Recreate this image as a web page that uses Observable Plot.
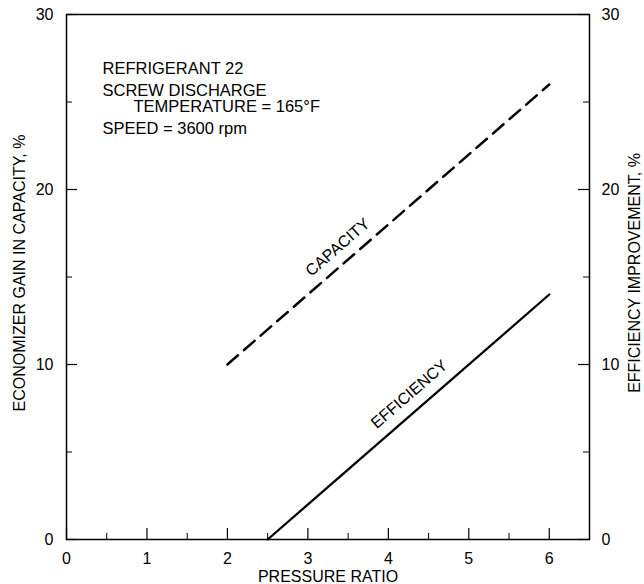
<!DOCTYPE html>
<html>
<head>
<meta charset="utf-8">
<script src="https://cdn.jsdelivr.net/npm/d3@7"></script>
<script src="https://cdn.jsdelivr.net/npm/@observablehq/plot@0.6"></script>
<style>
  html, body { margin: 0; padding: 0; background: #fff; }
</style>
</head>
<body>
<div id="chart"></div>
<script>
// ---- data ----
const capacityRatio = [2, 6];
const capacityGain = [10, 26];
const efficiencyRatio = [2.5, 6];
const efficiencyGain = [0, 14];
const xTicks = [0, 1, 2, 3, 4, 5, 6];
const xMinorTicks = [0.5, 1.5, 2.5, 3.5, 4.5, 5.5];
const yTicks = [0, 10, 20, 30];
const yMinorTicks = [5, 15, 25];
const noteLines = ["REFRIGERANT 22", "SCREW DISCHARGE", "TEMPERATURE = 165°F", "SPEED = 3600 rpm"];
const curveNames = ["CAPACITY", "EFFICIENCY"];
const xTitle = "PRESSURE RATIO";
const yLeftTitle = "ECONOMIZER GAIN IN CAPACITY, %";
const yRightTitle = "EFFICIENCY IMPROVEMENT, %";

// ---- layout ----
const W = 644, H = 584;
const mL = 66, mR = 55, mT = 14, mB = 45;
const fw = W - mL - mR, fh = H - mT - mB;
const majorLen = 11, minorLen = 6;
const font = "'Liberation Sans', Arial, Helvetica, sans-serif";

const capacity = capacityRatio.map((x, i) => ({x, y: capacityGain[i]}));
const efficiency = efficiencyRatio.map((x, i) => ({x, y: efficiencyGain[i]}));

// slope angle in screen space
const slope = (capacityGain[1] - capacityGain[0]) / (capacityRatio[1] - capacityRatio[0]);
const angle = -Math.atan(slope * (fh / 30) / (fw / 6.5)) * 180 / Math.PI;

const curveLabelPos = [{x: 3.37, y: 16.7}, {x: 4.26, y: 8.3}];
const notePos = [{dx: 36, dy: 54}, {dx: 36, dy: 76}, {dx: 67, dy: 92}, {dx: 36, dy: 114}];

const marks = [
  Plot.frame({stroke: "black", strokeWidth: 1.5}),
  // tick labels
  Plot.axisX(xTicks, {tickSize: 0, tickPadding: 13, fontSize: 16, label: null, fill: "black"}),
  Plot.axisY(yTicks, {anchor: "left", tickSize: 0, tickPadding: 13, fontSize: 16, label: null, fill: "black"}),
  Plot.axisY(yTicks, {anchor: "right", tickSize: 0, tickPadding: 12, fontSize: 16, label: null, fill: "black"}),
  // inward ticks
  Plot.tickX(xTicks, {x: d => d, insetTop: fh - majorLen, stroke: "black", strokeWidth: 1.2}),
  Plot.tickX(xMinorTicks, {x: d => d, insetTop: fh - minorLen, stroke: "black", strokeWidth: 1}),
  Plot.tickY(yTicks, {y: d => d, insetRight: fw - majorLen, stroke: "black", strokeWidth: 1.2}),
  Plot.tickY(yMinorTicks, {y: d => d, insetRight: fw - minorLen, stroke: "black", strokeWidth: 1}),
  Plot.tickY(yTicks, {y: d => d, insetLeft: fw - majorLen, stroke: "black", strokeWidth: 1.2}),
  Plot.tickY(yMinorTicks, {y: d => d, insetLeft: fw - minorLen, stroke: "black", strokeWidth: 1}),
  // curves
  Plot.line(capacity, {x: "x", y: "y", stroke: "black", strokeWidth: 2.5, strokeDasharray: "14,8"}),
  Plot.line(efficiency, {x: "x", y: "y", stroke: "black", strokeWidth: 2.3}),
  Plot.text(curveNames.map((t, i) => ({t, ...curveLabelPos[i]})), {
    x: "x", y: "y", text: "t", rotate: angle, fontSize: 16, fill: "black",
    textAnchor: "middle", lineAnchor: "middle"
  }),
  // notes
  ...noteLines.map((t, i) => Plot.text([t], {
    frameAnchor: "top-left", dx: notePos[i].dx, dy: notePos[i].dy,
    textAnchor: "start", lineAnchor: "middle", fontSize: 16.5, fill: "black"
  })),
  // axis titles
  Plot.text([xTitle], {frameAnchor: "bottom", dy: 37.5, textAnchor: "middle", lineAnchor: "middle", fontSize: 16, fill: "black"}),
  Plot.text([yLeftTitle], {frameAnchor: "left", dx: -47, dy: -4, rotate: -90, textAnchor: "middle", lineAnchor: "middle", fontSize: 16, fill: "black"}),
  Plot.text([yRightTitle], {frameAnchor: "right", dx: 45, dy: -4, rotate: -90, textAnchor: "middle", lineAnchor: "middle", fontSize: 16, fill: "black"})
];

const chart = Plot.plot({
  width: W, height: H,
  marginLeft: mL, marginRight: mR, marginTop: mT, marginBottom: mB,
  x: {domain: [0, 6.5]},
  y: {domain: [0, 30]},
  style: {fontFamily: font, fontSize: "16px", background: "white", color: "black", overflow: "visible"},
  marks
});
document.getElementById("chart").appendChild(chart);
</script>
</body>
</html>
